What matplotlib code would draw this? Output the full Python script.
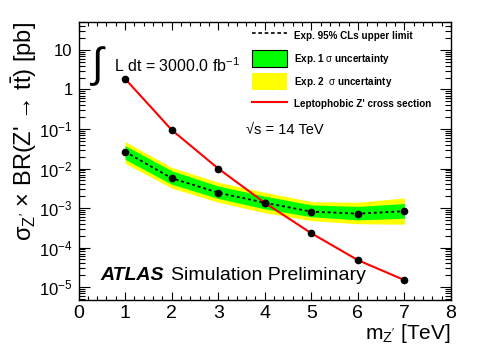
import math

import matplotlib
matplotlib.use("Agg")
import matplotlib.pyplot as plt
from matplotlib.lines import Line2D
from matplotlib.patches import Patch
from matplotlib.ticker import FixedLocator, FuncFormatter, MultipleLocator

plt.rcParams["font.family"] = ["Liberation Sans", "DejaVu Sans"]
plt.rcParams["mathtext.fontset"] = "custom"
plt.rcParams["mathtext.rm"] = "Liberation Sans"
plt.rcParams["mathtext.it"] = "Liberation Sans:italic"
plt.rcParams["mathtext.bf"] = "Liberation Sans:bold"
plt.rcParams["mathtext.sf"] = "Liberation Sans"

# Z' mass points [TeV]
mass = [1, 2, 3, 4, 5, 6, 7]
# expected 95% CLs limit and bands [pb]
exp_limit = [0.0266, 5.7e-3, 2.45e-3, 1.36e-3, 8.1e-4, 7.2e-4, 8.3e-4]
exp_p1 = [0.038, 8.8e-3, 3.6e-3, 2.0e-3, 1.2e-3, 1.1e-3, 1.3e-3]
exp_m1 = [0.017, 4.0e-3, 1.75e-3, 9.5e-4, 6.0e-4, 5.0e-4, 5.5e-4]
exp_p2 = [0.048, 0.0107, 4.5e-3, 2.5e-3, 1.45e-3, 1.4e-3, 1.8e-3]
exp_m2 = [0.0135, 3.2e-3, 1.4e-3, 7.6e-4, 4.8e-4, 4.0e-4, 3.9e-4]
# leptophobic Z' cross section [pb]
xsec = [1.87, 0.095, 0.01, 1.36e-3, 2.3e-4, 4.8e-5, 1.5e-5]

# y decades shown with labels
decades = [-5, -4, -3, -2, -1, 0, 1]

fig = plt.figure(figsize=(4.91, 3.53), dpi=100)
ax = fig.add_axes([78.5 / 491, 1 - 300 / 353, (451 - 78.5) / 491, (300 - 22) / 353])

ax.fill_between(mass, exp_m2, exp_p2, color="#ffff00", lw=0)
ax.fill_between(mass, exp_m1, exp_p1, color="#00ff00", lw=0)
ax.plot(mass, exp_limit, color="black", lw=1.3, ls=(0, (1.6, 1.6)),
        marker="o", ms=4.5, zorder=3)
ax.plot(mass, xsec, color="#ff0000", lw=1.5, marker="o", ms=4.5,
        mfc="black", mec="black", zorder=4)

ax.set_yscale("log")
ax.set_xlim(0, 8)
ax.set_ylim(4.7e-6, 51)

ax.xaxis.set_major_locator(MultipleLocator(1))
ax.xaxis.set_minor_locator(MultipleLocator(0.2))
ax.yaxis.set_major_locator(FixedLocator([10.0 ** d for d in decades]))
minor = [m * 10.0 ** d for d in [-6] + decades for m in range(2, 10)]
ax.yaxis.set_minor_locator(FixedLocator([v for v in minor if 4.7e-6 < v < 51]))


def ylab(v, pos):
    if abs(v - 1) < 1e-9:
        return "1"
    if abs(v - 10) < 1e-9:
        return "10"
    return r"$10^{%d}$" % int(round(math.log10(v)))


ax.yaxis.set_major_formatter(FuncFormatter(ylab))
ax.yaxis.set_minor_formatter(FuncFormatter(lambda v, p: ""))
ax.tick_params(which="both", direction="in", top=True, right=True, width=0.8)
ax.tick_params(axis="y", which="major", length=8, pad=4.3, labelsize=12)
ax.tick_params(axis="y", which="minor", length=4)
ax.tick_params(axis="x", which="major", length=6, pad=3.5, labelsize=14)
ax.tick_params(axis="x", which="minor", length=3)
for s in ax.spines.values():
    s.set_linewidth(1.0)

ax.set_xlabel(r"m$_{\mathrm{Z'}}$ [TeV]", fontsize=15, loc="right", labelpad=0)
ax.set_ylabel(r"σ$_{\mathrm{Z'}}$ × BR(Z' → t$\bar{\mathrm{t}}$) [pb]",
              fontsize=17, loc="top", labelpad=0)

ax.text(92, 353 - 66, "∫", fontsize=30, transform=None, va="center", ha="left")
ax.text(114, 353 - 66, r"L dt = 3000.0 fb$^{-1}$", fontsize=11.5,
        transform=None, va="center", ha="left")
ax.text(246, 353 - 129.5, r"√s = 14 TeV", fontsize=10.5, transform=None,
        va="center", ha="left")
ax.text(100, 353 - 276, "ATLAS", fontsize=14, fontweight="bold",
        fontstyle="italic", transform=None, va="center", ha="left")
ax.text(171, 353 - 276, "Simulation Preliminary", fontsize=14,
        transform=None, va="center", ha="left")

handles = [
    Line2D([], [], color="black", lw=1.2, ls=(0, (2.2, 1.6))),
    Patch(facecolor="#00ff00", edgecolor="black", lw=0.8),
    Patch(facecolor="#ffff00", edgecolor="none"),
    Line2D([], [], color="#ff0000", lw=1.5),
]
labels = [
    "Exp. 95% CLs upper limit",
    r"Exp. 1 $\mathrm{\sigma}$ uncertainty",
    r"Exp. 2  $\mathrm{\sigma}$ uncertainty",
    "Leptophobic Z' cross section",
]
leg = ax.legend(handles, labels, loc="upper left",
                bbox_to_anchor=(252 / 491, 1 - 27 / 353),
                bbox_transform=fig.transFigure, frameon=False,
                borderpad=0, borderaxespad=0, handlelength=3.55,
                handleheight=2.27, handletextpad=0.7, labelspacing=0.61,
                prop={"size": 7.1, "weight": "bold"})

fig.savefig("out.png", dpi=100)
